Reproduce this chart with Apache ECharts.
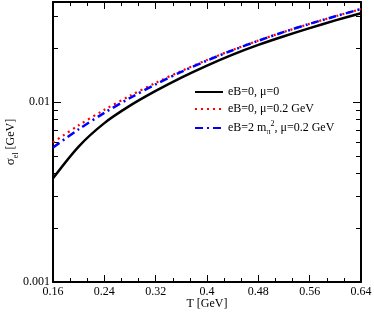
<!DOCTYPE html>
<html>
<head>
<meta charset="utf-8">
<script src="https://cdn.jsdelivr.net/npm/echarts@6/dist/echarts.min.js"></script>
<style>
html,body{margin:0;padding:0;background:#fff;}
#chart{width:374px;height:312px;}
</style>
</head>
<body>
<div id="chart"></div>
<script>
// Temperature T [GeV]
const temperature = [0.16, 0.20, 0.24, 0.28, 0.32, 0.36, 0.40, 0.44, 0.48, 0.52, 0.56, 0.60, 0.64];
// sigma_el [GeV] : eB=0, mu=0
const sigmaB0Mu0 = [0.00377, 0.00566, 0.00764, 0.00955, 0.01153, 0.01368, 0.01596, 0.01837, 0.02080, 0.02323, 0.02576, 0.02844, 0.03119];
// eB=0, mu=0.2 GeV
const sigmaB0Mu02 = [0.00597, 0.00743, 0.00906, 0.01084, 0.01279, 0.01489, 0.01714, 0.01950, 0.02198, 0.02455, 0.02723, 0.02999, 0.03289];
// eB=2 m_pi^2, mu=0.2 GeV
const sigmaB2Mu02 = [0.00559, 0.00706, 0.00871, 0.01054, 0.01256, 0.01472, 0.01702, 0.01941, 0.02193, 0.02455, 0.02723, 0.02999, 0.03289];

const seriesNames = ['eB=0, μ=0', 'eB=0, μ=0.2 GeV', 'eB=2 m_π^2, μ=0.2 GeV'];
const yMajorTicks = [0.001, 0.01];
const yMinorTicks = [0.002, 0.003, 0.004, 0.005, 0.006, 0.007, 0.008, 0.009, 0.02, 0.03];

const font = 'Liberation Serif';
const pairs = arr => temperature.map((t, i) => [t, arr[i]]);

const chart = echarts.init(document.getElementById('chart'), null, {renderer: 'canvas'});

const xCommon = {
  type: 'value', min: 0.16, max: 0.64, interval: 0.08,
  axisLine: {onZero: false, lineStyle: {color: '#000', width: 2}},
  axisTick: {inside: true, length: 7, lineStyle: {color: '#000', width: 1}},
  minorTick: {show: true, splitNumber: 3, length: 4, lineStyle: {color: '#000', width: 1}},
  splitLine: {show: false}
};
const yBase = {
  type: 'log', logBase: 10, min: 0.001, max: 0.036,
  splitLine: {show: false}, minorSplitLine: {show: false}
};

const option = {
  animation: false,
  backgroundColor: '#fff',
  textStyle: {fontFamily: font},
  grid: {left: 53, right: 13, top: 2, bottom: 30, containLabel: false, outerBoundsMode: 'none'},
  xAxis: [
    Object.assign({}, xCommon, {
      position: 'bottom',
      name: 'T [GeV]', nameLocation: 'middle', nameGap: 16, nameMoveOverlap: false,
      nameTextStyle: {fontFamily: font, fontSize: 12, color: '#000'},
      axisLabel: {color: '#000', fontFamily: font, fontSize: 12, margin: 4,
        formatter: v => String(+v.toFixed(2))}
    }),
    Object.assign({}, xCommon, {position: 'top', axisLabel: {show: false}})
  ],
  yAxis: [
    Object.assign({}, yBase, {
      position: 'left',
      name: '{s|σ}{sub|el} [GeV]', nameLocation: 'middle', nameGap: 33, nameMoveOverlap: false,
      nameTextStyle: {fontFamily: font, fontSize: 12, color: '#000',
        rich: {s: {fontFamily: font, fontSize: 13, color: '#000'},
               sub: {fontFamily: font, fontSize: 8, color: '#000', verticalAlign: 'bottom', lineHeight: 18}}},
      axisLine: {lineStyle: {color: '#000', width: 2}},
      axisTick: {inside: true, length: 8, customValues: yMajorTicks, lineStyle: {color: '#000', width: 1}},
      axisLabel: {color: '#000', fontFamily: font, fontSize: 12, margin: 3, customValues: yMajorTicks,
        formatter: v => String(v)}
    }),
    Object.assign({}, yBase, {
      position: 'left',
      axisLine: {show: false},
      axisTick: {inside: true, length: 5, customValues: yMinorTicks, lineStyle: {color: '#000', width: 1}},
      axisLabel: {show: false}
    }),
    Object.assign({}, yBase, {
      position: 'right',
      axisLine: {lineStyle: {color: '#000', width: 2}},
      axisTick: {inside: true, length: 8, customValues: yMajorTicks, lineStyle: {color: '#000', width: 1}},
      axisLabel: {show: false}
    }),
    Object.assign({}, yBase, {
      position: 'right',
      axisLine: {show: false},
      axisTick: {inside: true, length: 5, customValues: yMinorTicks, lineStyle: {color: '#000', width: 1}},
      axisLabel: {show: false}
    })
  ],
  legend: {
    show: true,
    orient: 'vertical', left: 189, top: 81,
    itemWidth: 28, itemHeight: 12, itemGap: 5,
    itemStyle: {opacity: 0},
    data: seriesNames,
    textStyle: {fontFamily: font, fontSize: 12, color: '#000',
      rich: {
        t: {fontFamily: font, fontSize: 12, color: '#000'},
        sub: {fontFamily: font, fontSize: 8, color: '#000', verticalAlign: 'bottom', lineHeight: 16},
        sup: {fontFamily: font, fontSize: 8, color: '#000', verticalAlign: 'top', lineHeight: 16}
      }},
    formatter: name => name === seriesNames[2] ? '{t|eB=2 m}{sub|π}{sup|2}{t|, μ=0.2 GeV}' : name
  },
  series: [
    {name: seriesNames[0], type: 'line', data: pairs(sigmaB0Mu0), smooth: 0.3, showSymbol: false, symbol: 'none',
      lineStyle: {color: '#000', width: 2.5}, itemStyle: {color: '#000'}, z: 3},
    {name: seriesNames[1], type: 'line', data: pairs(sigmaB0Mu02), smooth: 0.3, showSymbol: false, symbol: 'none',
      lineStyle: {color: '#ff0000', width: 2.2, type: [2, 4], cap: 'butt'}, itemStyle: {color: '#ff0000'}, z: 4},
    {name: seriesNames[2], type: 'line', data: pairs(sigmaB2Mu02), smooth: 0.3, showSymbol: false, symbol: 'none',
      lineStyle: {color: '#0000ff', width: 2.5, type: [8, 4, 2, 4], cap: 'butt'}, itemStyle: {color: '#0000ff'}, z: 5}
  ]
};
chart.setOption(option);
</script>
</body>
</html>
